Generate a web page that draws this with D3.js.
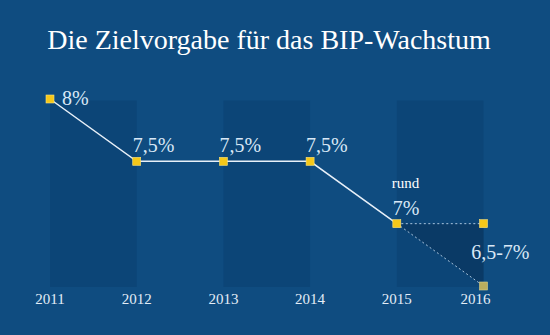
<!DOCTYPE html>
<html>
<head>
<meta charset="utf-8">
<script src="https://cdn.jsdelivr.net/npm/d3@7"></script>
<style>
  html, body { margin: 0; padding: 0; background: #0f4c80; }
  svg { display: block; }
</style>
</head>
<body>
<svg id="chart" width="550" height="335"></svg>
<script>
// GDP growth targets, in percent
const years = [2011, 2012, 2013, 2014, 2015, 2016];
const targets = [8, 7.5, 7.5, 7.5, 7];
const targetLabels = ["8%", "7,5%", "7,5%", "7,5%", "7%"];
const rangeYear = 2016;
const rangeLow = 6.5;
const rangeHigh = 7;
const rangeLabel = "6,5-7%";
const noteLabel = "rund";
const title = "Die Zielvorgabe für das BIP-Wachstum";

const W = 550, H = 335;
const svg = d3.select("#chart");
const serif = '"Liberation Serif"';

svg.append("rect").attr("width", W).attr("height", H).attr("fill", "#0f4c80");

const x = d3.scaleLinear().domain([2011, 2016]).range([50, 483.5]);
const y = d3.scaleLinear().domain([6.5, 8]).range([286, 99]);

// alternating column bands
const bandYears = years.filter((d, i) => i % 2 === 0);
svg.append("g").selectAll("rect").data(bandYears).join("rect")
  .attr("x", d => x(d))
  .attr("width", d => x(d + 1) - x(d))
  .attr("y", y(8) + 1.5)
  .attr("height", y(rangeLow) - y(8) - 0.5)
  .attr("fill", "#0c4577");

// title
svg.append("text")
  .attr("x", 269).attr("y", 49)
  .attr("text-anchor", "middle")
  .style("font-family", serif)
  .attr("font-size", 28)
  .attr("fill", "#ffffff")
  .text(title);

// forecast range wedge
const lastYear = years[targets.length - 1];
const lastVal = targets[targets.length - 1];
const wedge = [[lastYear, lastVal], [rangeYear, rangeHigh], [rangeYear, rangeLow]];
svg.append("path")
  .attr("d", d3.line().x(d => x(d[0])).y(d => y(d[1]))(wedge) + "Z")
  .attr("fill", "#0a3a66");

svg.append("g").selectAll("line").data([rangeHigh, rangeLow]).join("line")
  .attr("x1", x(lastYear)).attr("y1", y(lastVal))
  .attr("x2", x(rangeYear)).attr("y2", d => y(d))
  .attr("stroke", "#a9c4dd")
  .attr("stroke-width", 1)
  .attr("stroke-dasharray", "2,2.5");

// target line
const pts = targets.map((v, i) => [years[i], v]);
svg.append("path")
  .attr("d", d3.line().x(d => x(d[0])).y(d => y(d[1]))(pts))
  .attr("fill", "none")
  .attr("stroke", "#e8f0f8")
  .attr("stroke-width", 1.5);

// markers
const ms = 8;
const markers = pts.concat([[rangeYear, rangeHigh]]);
svg.append("g").selectAll("rect").data(markers).join("rect")
  .attr("x", d => x(d[0]) - ms / 2)
  .attr("y", d => y(d[1]) - ms / 2)
  .attr("width", ms).attr("height", ms)
  .attr("fill", "#f5c81a")
  .attr("stroke", "#fbe27a")
  .attr("stroke-width", 0.6);
svg.append("rect")
  .attr("x", x(rangeYear) - ms / 2)
  .attr("y", y(rangeLow) - ms / 2)
  .attr("width", ms).attr("height", ms)
  .attr("fill", "#b9ad5e")
  .attr("stroke", "#d8cf8a")
  .attr("stroke-width", 0.6);

// value labels
const labelColor = "#d9e8f6";
svg.append("g").selectAll("text").data(pts).join("text")
  .attr("x", (d, i) => i === 0 ? x(d[0]) + 12 : x(d[0]) - 4)
  .attr("y", (d, i) => i === 0 ? y(d[1]) + 6 : y(d[1]) - 9)
  .style("font-family", serif)
  .attr("font-size", 20)
  .attr("fill", labelColor)
  .text((d, i) => targetLabels[i]);

svg.append("text")
  .attr("x", x(lastYear) - 5).attr("y", y(lastVal) - 36)
  .style("font-family", serif)
  .attr("font-size", 15)
  .attr("fill", "#ffffff")
  .text(noteLabel);

svg.append("text")
  .attr("x", x(rangeYear) + 46).attr("y", (y(rangeHigh) + y(rangeLow)) / 2 + 4)
  .attr("text-anchor", "end")
  .style("font-family", serif)
  .attr("font-size", 20)
  .attr("fill", labelColor)
  .text(rangeLabel);

// year axis labels
svg.append("g").selectAll("text").data(years).join("text")
  .attr("x", d => x(d) + (d === rangeYear ? -8 : 0))
  .attr("y", 304)
  .attr("text-anchor", "middle")
  .style("font-family", serif)
  .attr("font-size", 15)
  .attr("fill", "#e3edf7")
  .text(d => d);
</script>
</body>
</html>
